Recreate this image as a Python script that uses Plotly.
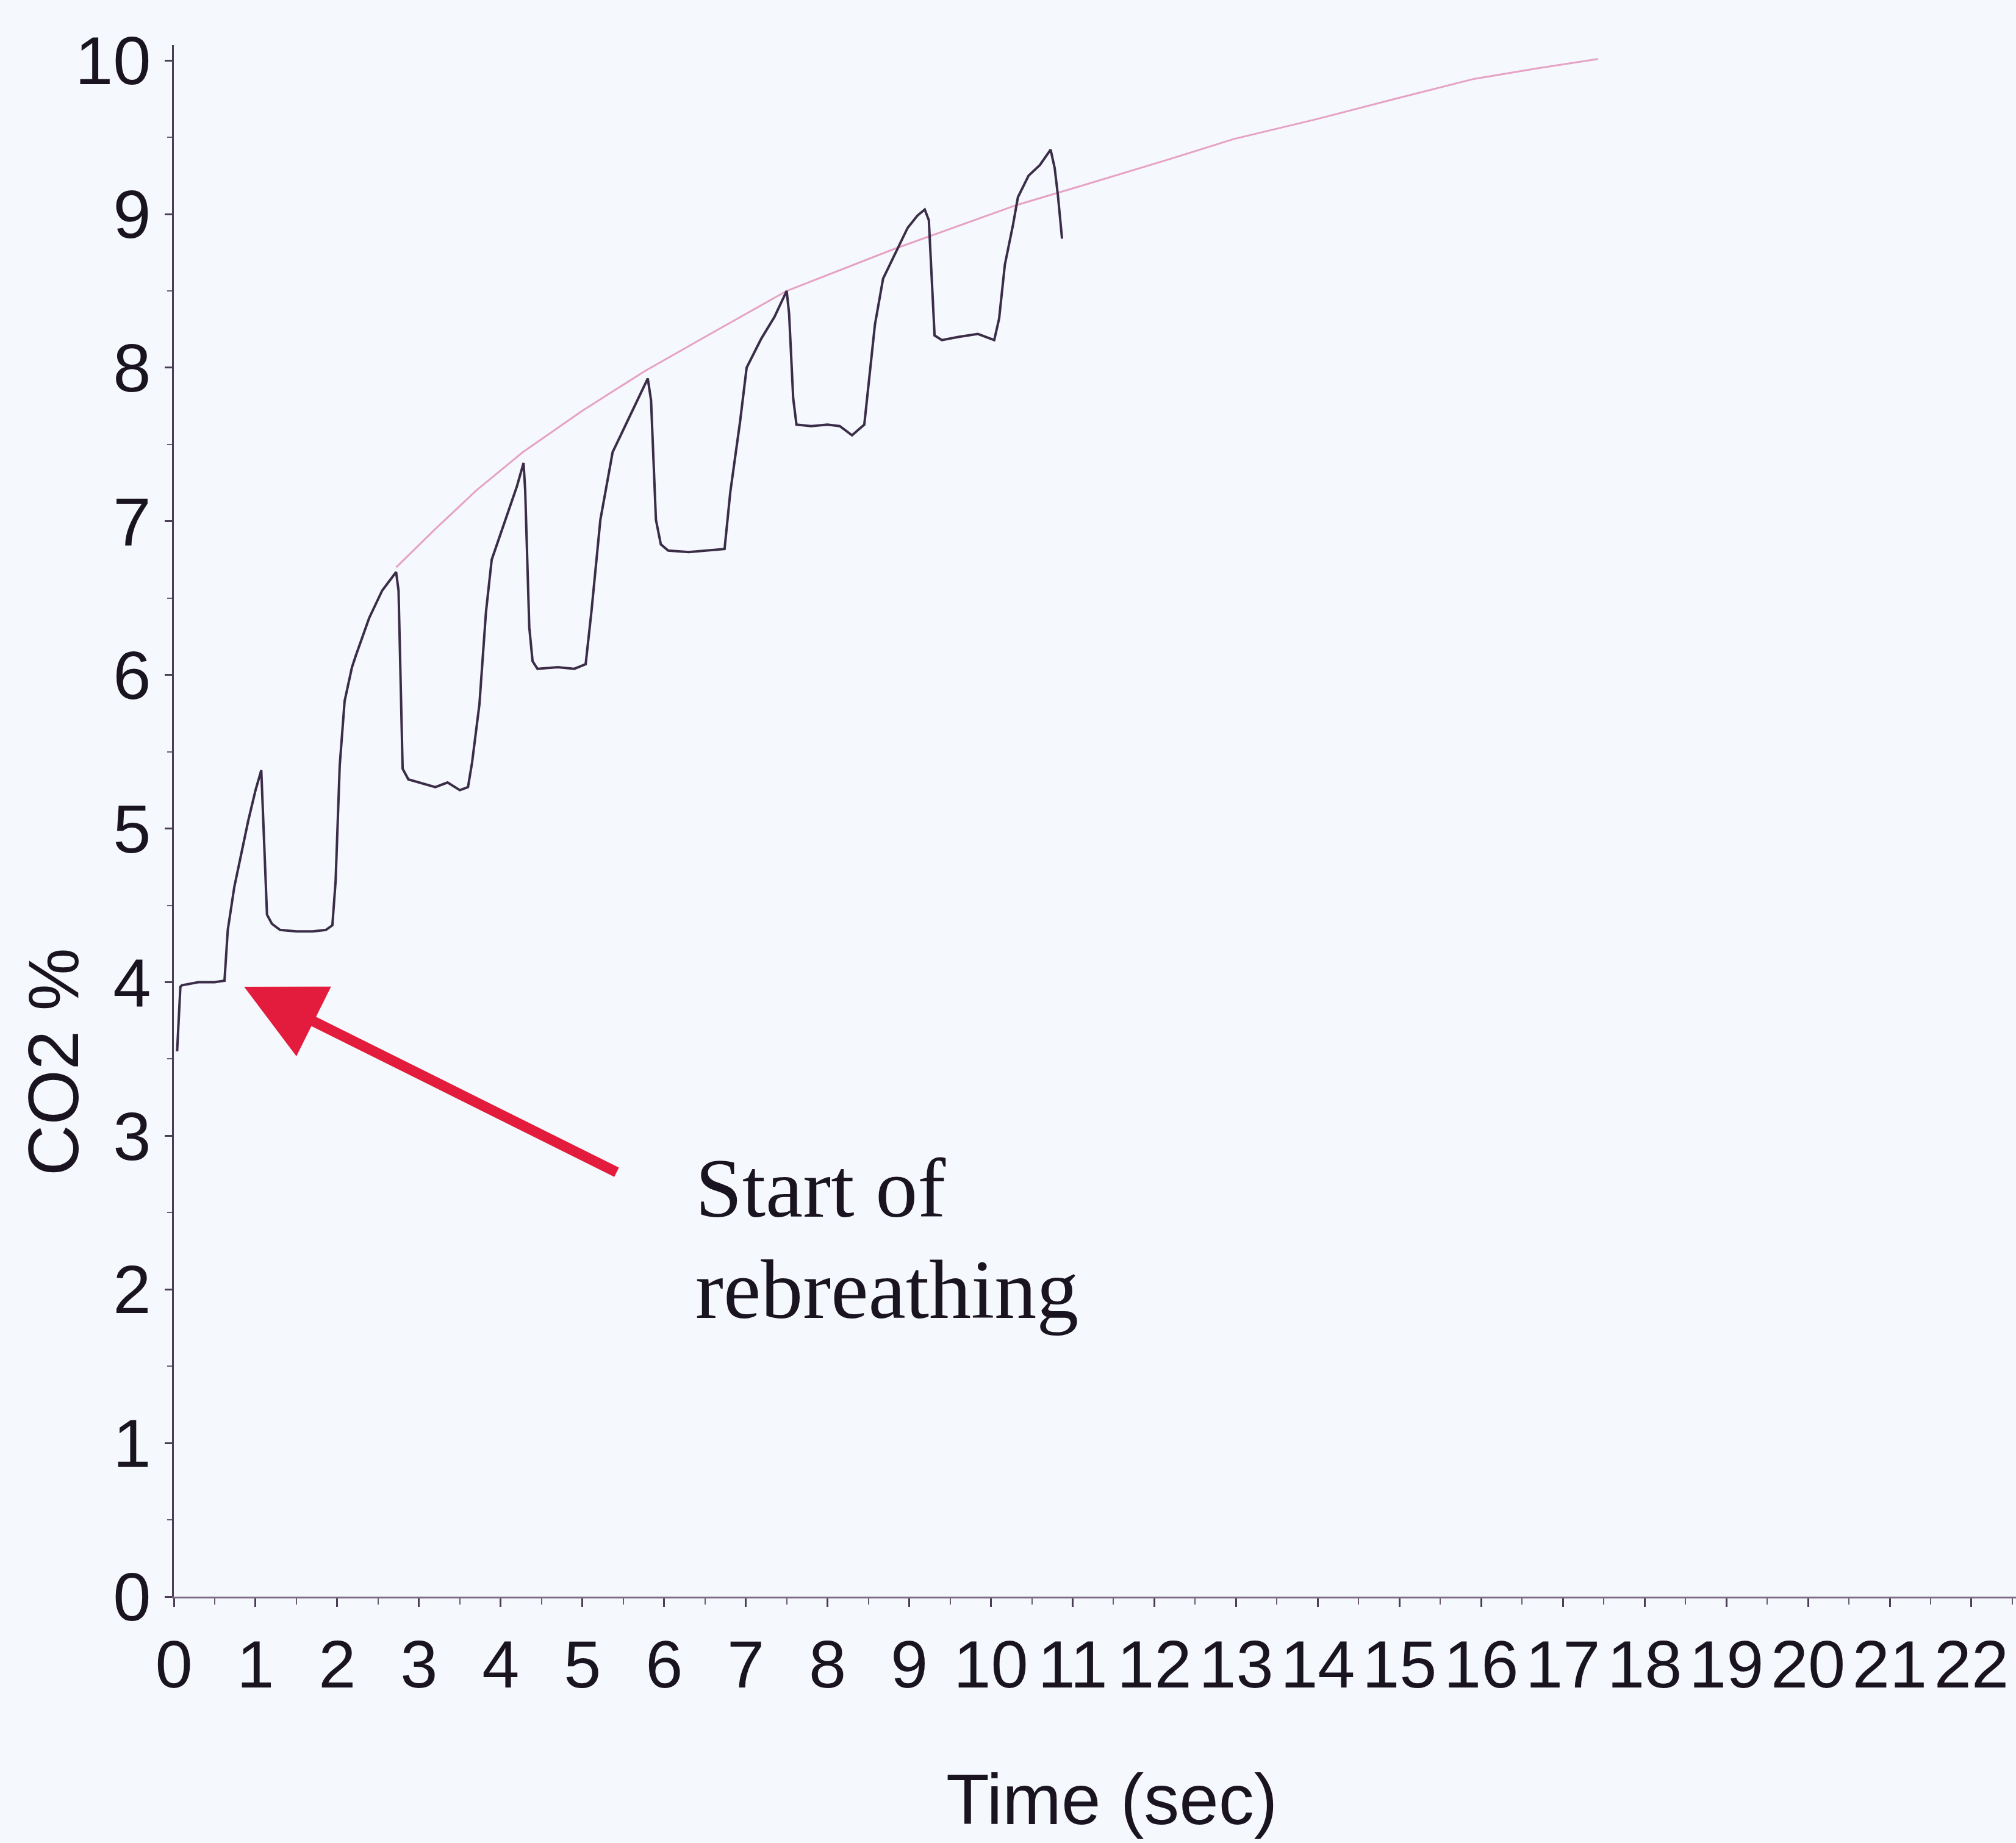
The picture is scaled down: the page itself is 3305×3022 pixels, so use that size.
import plotly.graph_objects as go

# ---- data ----
co2_time = [0.04, 0.08, 0.10, 0.30, 0.50, 0.62, 0.66, 0.74, 0.91, 1.00, 1.07, 1.11, 1.14, 1.20, 1.30, 1.50,
            1.70, 1.86, 1.94, 1.98, 2.03, 2.09, 2.18, 2.23, 2.39, 2.55, 2.72, 2.75, 2.80, 2.87, 3.00, 3.20,
            3.35, 3.50, 3.60, 3.65, 3.74, 3.82, 3.89, 4.05, 4.20, 4.28, 4.30, 4.35, 4.39, 4.45, 4.70, 4.90,
            5.04, 5.11, 5.22, 5.37, 5.64, 5.80, 5.84, 5.90, 5.96, 6.05, 6.30, 6.55, 6.74, 6.81, 6.93, 7.01,
            7.19, 7.35, 7.50, 7.53, 7.58, 7.62, 7.80, 8.00, 8.15, 8.30, 8.45, 8.50, 8.58, 8.68, 8.85, 8.98,
            9.10, 9.19, 9.24, 9.28, 9.31, 9.40, 9.60, 9.84, 10.04, 10.10, 10.17, 10.27, 10.33, 10.46, 10.60,
            10.73, 10.78, 10.82, 10.85, 10.87]
co2_pct = [3.55, 3.97, 3.98, 4.00, 4.00, 4.01, 4.34, 4.62, 5.05, 5.25, 5.38, 4.86, 4.44, 4.38, 4.34, 4.33,
           4.33, 4.34, 4.37, 4.66, 5.41, 5.83, 6.05, 6.13, 6.37, 6.55, 6.67, 6.55, 5.39, 5.32, 5.30, 5.27,
           5.30, 5.25, 5.27, 5.43, 5.81, 6.41, 6.75, 7.00, 7.23, 7.38, 7.20, 6.31, 6.09, 6.04, 6.05, 6.04,
           6.07, 6.41, 7.01, 7.45, 7.75, 7.93, 7.79, 7.01, 6.85, 6.81, 6.80, 6.81, 6.82, 7.19, 7.65, 8.00,
           8.19, 8.33, 8.50, 8.35, 7.80, 7.63, 7.62, 7.63, 7.62, 7.56, 7.63, 7.88, 8.28, 8.58, 8.77, 8.91,
           8.99, 9.03, 8.96, 8.49, 8.21, 8.18, 8.20, 8.22, 8.18, 8.32, 8.67, 8.93, 9.11, 9.25, 9.32,
           9.42, 9.30, 9.12, 8.95, 8.84]

fit_time = [2.72, 3.20, 3.70, 4.27, 5.00, 5.77, 6.50, 7.50, 8.80, 10.32, 11.08, 12.20, 12.98, 14.00,
            14.87, 15.91, 16.70, 17.43]
fit_pct = [6.70, 6.95, 7.20, 7.45, 7.72, 7.98, 8.20, 8.50, 8.77, 9.06, 9.18, 9.36, 9.49, 9.62,
           9.74, 9.88, 9.95, 10.01]

x_ticks = list(range(0, 23))
y_ticks = list(range(0, 11))

annot_tip = (0.86, 3.97)
annot_tail = (5.43, 2.76)
annot_lines = ["Start of", "rebreathing"]

# ---- figure ----
BG = "#f5f8fd"
TXT = "#1a1420"
SANS = "Liberation Sans, Arial, sans-serif"
SERIF = "Liberation Serif, Times New Roman, serif"

fig = go.Figure()
fig.add_trace(go.Scatter(x=fit_time, y=fit_pct, mode="lines",
                         line=dict(color="#e6a2c4", width=3), hoverinfo="skip"))
fig.add_trace(go.Scatter(x=co2_time, y=co2_pct, mode="lines",
                         line=dict(color="#3b2d48", width=4), hoverinfo="skip"))

fig.update_layout(
    width=3305, height=3022,
    margin=dict(l=285, r=0, t=74, b=404, autoexpand=False),
    paper_bgcolor=BG, plot_bgcolor=BG,
    showlegend=False,
    font=dict(family=SANS, size=112, color=TXT),
)
fig.update_xaxes(
    range=[0, 22.545], tickmode="array", tickvals=x_ticks, ticktext=[str(v) for v in x_ticks],
    showgrid=False, zeroline=False, showline=True, linecolor="#7d6c86", linewidth=3,
    ticks="outside", ticklen=14, tickwidth=3, tickcolor="#4a3d55", tickangle=0,
    ticklabeloverflow="allow",
    tickfont=dict(family=SANS, size=110, color=TXT),
    minor=dict(dtick=0.5, tick0=0, ticks="outside", ticklen=10, tickwidth=2, tickcolor="#6a5a74", showgrid=False),
)
fig.update_yaxes(
    range=[0, 10.1], tickmode="array", tickvals=y_ticks, ticktext=[str(v) for v in y_ticks],
    showgrid=False, zeroline=False, showline=True, linecolor="#4a3d55", linewidth=3,
    ticks="outside", ticklen=12, tickwidth=3, tickcolor="#4a3d55",
    tickfont=dict(family=SANS, size=112, color=TXT),
    minor=dict(dtick=0.5, tick0=0, ticks="outside", ticklen=8, tickwidth=2, tickcolor="#6a5a74", showgrid=False),
)

# axis titles
fig.add_annotation(text="CO2 %", xref="paper", yref="y", x=-0.065, y=3.48,
                   textangle=-90, showarrow=False, xanchor="center", yanchor="middle",
                   font=dict(family=SANS, size=116, color=TXT))
fig.add_annotation(text="Time (sec)", xref="x", yref="paper", x=11.48, y=-0.131,
                   showarrow=False, xanchor="center", yanchor="middle",
                   font=dict(family=SANS, size=116, color=TXT))

# red arrow
fig.add_annotation(x=annot_tip[0], y=annot_tip[1], ax=annot_tail[0], ay=annot_tail[1],
                   xref="x", yref="y", axref="x", ayref="y", text="",
                   showarrow=True, arrowhead=2, arrowsize=1.5, arrowwidth=17, arrowcolor="#e31b3c")

# annotation text
fig.add_annotation(text=annot_lines[0], xref="x", yref="y", x=6.37, y=2.66, showarrow=False,
                   xanchor="left", yanchor="middle", font=dict(family=SERIF, size=138, color=TXT))
fig.add_annotation(text=annot_lines[1], xref="x", yref="y", x=6.37, y=2.00, showarrow=False,
                   xanchor="left", yanchor="middle", font=dict(family=SERIF, size=138, color=TXT))

fig.write_html("out.html")
